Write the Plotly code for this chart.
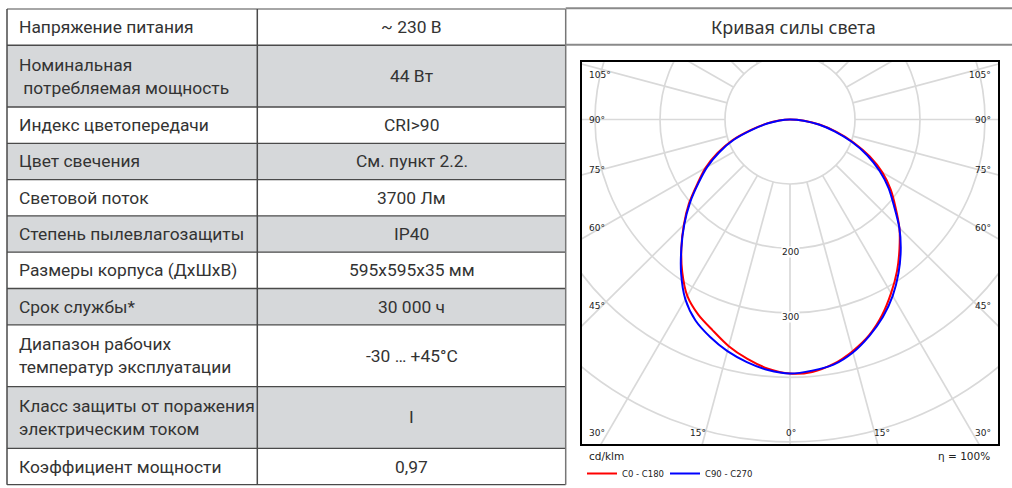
import math
import plotly.graph_objects as go

W, H = 1012, 488

# ---------------- data ----------------
param_names = [
    "Напряжение питания",
    "Номинальная<br>\u00a0потребляемая мощность",
    "Индекс цветопередачи",
    "Цвет свечения",
    "Световой поток",
    "Степень пылевлагозащиты",
    "Размеры корпуса (ДхШхВ)",
    "Срок службы*",
    "Диапазон рабочих<br>температур эксплуатации",
    "Класс защиты от поражения<br>электрическим током",
    "Коэффициент мощности",
]
param_values = [
    "~ 230 В", "44 Вт", "CRI>90", "См. пункт 2.2.", "3700 Лм", "IP40",
    "595х595х35 мм", "30 000 ч", "-30 … +45°C", "I", "0,97",
]
chart_title = "Кривая силы света"

gamma = [0, 5, 10, 15, 20, 25, 30, 35, 40, 45, 50, 55, 60, 65, 70, 75, 80, 85, 90]
c0 = [394, 393, 385, 372, 356, 335, 311, 287, 262, 238, 212, 189, 164, 135, 104, 74, 47, 22, 0]
c180 = [394, 388, 377, 364, 348, 334, 316, 289, 260, 231, 203, 174, 150, 123, 95, 62, 37, 17, 0]
c90 = [394, 391, 386, 374, 357, 338, 316, 291, 265, 238, 209, 185, 159, 131, 101, 71, 45, 21, 0]
c270 = [394, 390, 382, 372, 359, 344, 322, 292, 260, 230, 201, 172, 147, 120, 92, 59, 34, 16, 0]

circle_values = [100, 200, 300, 400, 500, 600]
labelled_circles = [200, 300]
radial_angles = list(range(0, 360, 15))
side_angles = [105, 90, 75, 60, 45]
bottom_angles = [-30, -15, 0, 15, 30]
unit_label = "cd/klm"
eff_label = "η = 100%"

# ---------------- layout helpers ----------------
def px(x):
    return x / W

def py(y):
    return 1 - y / H

FX0, FX1, FY0, FY1 = 581.7, 998.3, 62.7, 447.7
CX, CY = 790.0, 120.5
S = 0.65  # px per cd/klm
xr = [(FX0 - CX) / S, (FX1 - CX) / S]
yr = [(CY - FY1) / S, (CY - FY0) / S]

fig = go.Figure()

def curve(left, right):
    xs, ys = [], []
    for g, v in zip(reversed(gamma), reversed(left)):
        t = math.radians(g)
        xs.append(-v * math.sin(t)); ys.append(-v * math.cos(t))
    for g, v in zip(gamma[1:], right[1:]):
        t = math.radians(g)
        xs.append(v * math.sin(t)); ys.append(-v * math.cos(t))
    return xs, ys

rx, ry = curve(c180, c0)
bx, by = curve(c270, c90)
fig.add_trace(go.Scatter(x=rx, y=ry, mode="lines", name="C0 - C180", legend="legend",
                         line=dict(color="#ff0000", width=2, shape="spline", smoothing=0.8),
                         hoverinfo="skip"))
fig.add_trace(go.Scatter(x=bx, y=by, mode="lines", name="C90 - C270", legend="legend2",
                         line=dict(color="#0000ff", width=2, shape="spline", smoothing=0.8),
                         hoverinfo="skip"))

shapes = []
grid_col = "#d9d9d9"
for r in circle_values:
    shapes.append(dict(type="circle", xref="x", yref="y", x0=-r, x1=r, y0=-r, y1=r,
                       line=dict(color=grid_col, width=1.7), layer="below"))
for a in radial_angles:
    t = math.radians(a)
    r0, r1 = circle_values[0], 2000
    shapes.append(dict(type="line", xref="x", yref="y",
                       x0=r0 * math.sin(t), y0=-r0 * math.cos(t),
                       x1=r1 * math.sin(t), y1=-r1 * math.cos(t),
                       line=dict(color=grid_col, width=1.7), layer="below"))

annotations = []
lab_font = dict(family="DejaVu Sans", size=9, color="#222")
for v in labelled_circles:
    annotations.append(dict(xref="x", yref="y", x=0, y=-v, yshift=-4, text=str(v),
                            showarrow=False, font=lab_font, bgcolor="white", borderpad=0))
side_y = {105: 76, 90: 120.5, 75: 171.5, 60: 230, 45: 309}
for a in side_angles:
    annotations.append(dict(xref="paper", yref="paper", x=px(587), y=py(side_y[a]),
                            xanchor="left", yanchor="middle", text=f"{a}°",
                            showarrow=False, font=lab_font))
    annotations.append(dict(xref="paper", yref="paper", x=px(993), y=py(side_y[a]),
                            xanchor="right", yanchor="middle", text=f"{a}°",
                            showarrow=False, font=lab_font))
for a in bottom_angles:
    xb = CX + (FY1 - CY) * math.tan(math.radians(a))
    xb += 4 * (1 if a > 0 else (-1 if a < 0 else 0.25))
    annotations.append(dict(xref="paper", yref="paper", x=px(xb), y=py(437),
                            xanchor="center", yanchor="middle", text=f"{abs(a)}°",
                            showarrow=False, font=lab_font))
annotations.append(dict(xref="paper", yref="paper", x=px(587), y=py(460),
                        xanchor="left", yanchor="middle", text=unit_label,
                        showarrow=False, font=dict(family="DejaVu Sans", size=10.5, color="#222")))
annotations.append(dict(xref="paper", yref="paper", x=px(992), y=py(460),
                        xanchor="right", yanchor="middle", text=eff_label,
                        showarrow=False, font=dict(family="DejaVu Sans", size=10.5, color="#222")))

# ---------------- table ----------------
T_TOP = 9.0
single_h, double_h = 36.6, 62.3
X_L, X_DIV, X_R = 7.0, 257.3, 565.7
row_tops = []
y = T_TOP
for n in param_names:
    row_tops.append(y)
    y += double_h if "<br>" in n else single_h
T_BOT = y

fill_col = "#d6d8da"
line_col = "#4a4a4a"
txt_font = dict(family="Roboto", size=17.4, color="#333333")
for i, (n, v) in enumerate(zip(param_names, param_values)):
    top = row_tops[i]
    bot = row_tops[i + 1] if i + 1 < len(row_tops) else T_BOT
    if i % 2 == 1:
        shapes.append(dict(type="rect", xref="paper", yref="paper",
                           x0=px(X_L), x1=px(X_R), y0=py(bot), y1=py(top),
                           fillcolor=fill_col, line=dict(width=0), layer="below"))
    mid = (top + bot) / 2
    annotations.append(dict(xref="paper", yref="paper", x=px(17), y=py(mid),
                            xanchor="left", yanchor="middle", align="left", text=n,
                            showarrow=False, font=txt_font))
    annotations.append(dict(xref="paper", yref="paper", x=px((X_DIV + X_R) / 2), y=py(mid),
                            xanchor="center", yanchor="middle", text=v,
                            showarrow=False, font=txt_font))
for t in row_tops[1:] + [T_BOT]:
    shapes.append(dict(type="line", xref="paper", yref="paper",
                       x0=px(X_L), x1=px(X_R), y0=py(t), y1=py(t),
                       line=dict(color=line_col, width=1.3)))
shapes.append(dict(type="line", xref="paper", yref="paper",
                   x0=px(X_L), x1=px(X_R), y0=py(T_TOP), y1=py(T_TOP),
                   line=dict(color="#888", width=1.6)))
for xv, col in [(X_L, line_col), (X_DIV, line_col), (X_R, "#777")]:
    shapes.append(dict(type="line", xref="paper", yref="paper",
                       x0=px(xv), x1=px(xv), y0=py(T_BOT), y1=py(T_TOP),
                       line=dict(color=col, width=1.5)))
for yy in [8.3, 45.0]:
    shapes.append(dict(type="line", xref="paper", yref="paper",
                       x0=px(X_R), x1=1, y0=py(yy), y1=py(yy),
                       line=dict(color="#8a8a8a", width=2)))
annotations.append(dict(xref="paper", yref="paper", x=px(793.5), y=py(27),
                        xanchor="center", yanchor="middle", text=chart_title,
                        showarrow=False, font=dict(family="Noto Sans", size=18, color="#333")))

leg_common = dict(orientation="h", xanchor="left", yanchor="top",
                  font=dict(family="DejaVu Sans", size=8.5, color="#222"),
                  bgcolor="rgba(0,0,0,0)", itemwidth=30)

fig.update_layout(
    width=W, height=H, margin=dict(l=0, r=0, t=0, b=0),
    paper_bgcolor="white", plot_bgcolor="white",
    xaxis=dict(domain=[px(FX0), px(FX1)], range=xr, showgrid=False, zeroline=False,
               showticklabels=False, ticks="", showline=True, mirror=True,
               linecolor="black", linewidth=2, fixedrange=True),
    yaxis=dict(domain=[py(FY1), py(FY0)], range=yr, showgrid=False, zeroline=False,
               showticklabels=False, ticks="", showline=True, mirror=True,
               linecolor="black", linewidth=2, fixedrange=True),
    shapes=shapes, annotations=annotations,
    showlegend=True,
    legend=dict(x=px(582), y=py(463), **leg_common),
    legend2=dict(x=px(665), y=py(463), **leg_common),
)

fig.write_html("out.html", config={"displayModeBar": False},
               post_script="document.body.style.margin='0';document.body.style.overflow='hidden';")
